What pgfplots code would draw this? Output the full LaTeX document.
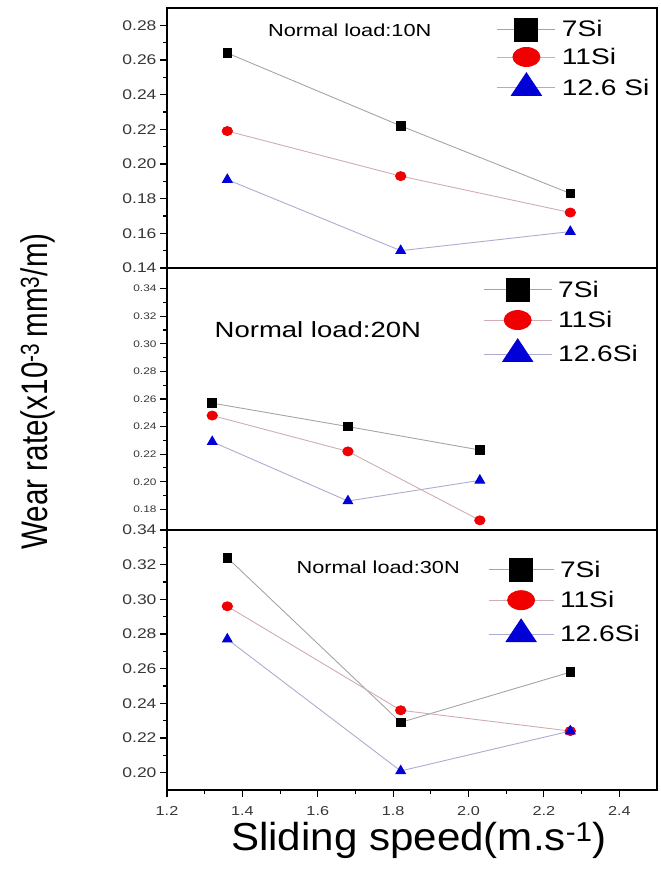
\documentclass[border=0pt]{standalone}
\usepackage{fontspec}
\setmainfont{Liberation Sans}[FakeStretch=1.25]
\newfontfamily\xlabfont{Liberation Sans}[FakeStretch=1.08]
\newfontfamily\ylabfont{Liberation Sans}[FakeStretch=0.8]
\usepackage{pgfplots}
\usepackage{pgfplotstable}
\pgfplotsset{compat=1.18}

\definecolor{ln7}{RGB}{165,165,165}
\definecolor{ln11}{RGB}{208,172,180}
\definecolor{ln12}{RGB}{172,172,208}
\definecolor{mkred}{RGB}{240,0,0}
\definecolor{mkblue}{RGB}{0,0,215}
\definecolor{tickgray}{RGB}{55,55,55}

% wear rate, load 10 N / 20 N / 30 N
\pgfplotstableread{
x     s7     s11    s126
1.36  0.264  0.219  0.191
1.82  0.222  0.193  0.150
2.27  0.183  0.172  0.161
}\loadten
\pgfplotstableread{
x     s7     s11    s126
1.32  0.257  0.248  0.229
1.68  0.240  0.222  0.186
2.03  0.223  0.172  0.201
}\loadtwenty
\pgfplotstableread{
x     s7     s11    s126
1.36  0.324  0.296  0.277
1.82  0.229  0.236  0.201
2.27  0.258  0.224  0.224
}\loadthirty

\pgfplotsset{
  leglen/.style={legend image code/.code={\draw[mark repeat=2,mark phase=2] plot coordinates {(0pt,0pt) (#1/2,0pt) (#1,0pt)};}},
  panel/.style={
    scale only axis, width=490pt, height=260pt,
    xmin=1.2, xmax=2.5,
    axis line style={line width=1.4pt},
    tick align=outside, ytick pos=left, xtick pos=bottom,
    major tick length=7pt, minor tick length=4pt,
    tick style={line width=1.1pt, black},
    minor y tick num=1,
    /pgf/number format/assume math mode=true,
    yticklabel style={/pgf/number format/fixed, /pgf/number format/fixed zerofill, /pgf/number format/precision=2},
    tick label style={text=tickgray},
    legend style={draw=none, fill=none, inner sep=0pt, column sep=4pt,
      font=\fontsize{22.5}{22.5}\selectfont, anchor=north west},
    legend cell align=left,
  },
  s7/.style={ln7, line width=0.9pt, mark=square*, mark size=4.3pt,
    mark options={draw=black, fill=black},
    legend image post style={mark size=11.5pt}},
  s11/.style={ln11, line width=0.9pt, mark=*, mark size=4.5pt,
    mark options={draw=mkred, fill=mkred, xscale=1.15},
    legend image post style={mark size=9.5pt, mark options={draw=mkred, fill=mkred, xscale=1.42}}},
  s126/.style={ln12, line width=0.9pt, mark=triangle*, mark size=5.5pt,
    mark options={draw=mkblue, fill=mkblue},
    legend image post style={mark size=15pt, mark options={draw=mkblue, fill=mkblue, xscale=1.15}}},
}

\begin{document}
\begin{tikzpicture}
\useasboundingbox (0pt,0pt) rectangle (661pt,870pt);

% top: 10 N
\begin{axis}[panel, at={(167pt,602pt)}, anchor=south west,
    ymin=0.14, ymax=0.29, ytick={0.14,0.16,0.18,0.20,0.22,0.24,0.26,0.28},
    xtick=\empty,
    yticklabel style={font=\fontsize{14}{14}\selectfont},
    leglen=58pt,
    legend style={at={(rel axis cs:0.673,0.962)}, row sep=5pt}]
  \addplot[s7] table[x=x, y=s7] {\loadten};
  \addplot[s11] table[x=x, y=s11] {\loadten};
  \addplot[s126] table[x=x, y=s126] {\loadten};
  \legend{7Si, 11Si, 12.6 Si}
  \node[font=\fontsize{17.4}{17.4}\selectfont] at (rel axis cs:0.373,0.915) {Normal load:10N};
\end{axis}

% middle: 20 N
\begin{axis}[panel, at={(167pt,340pt)}, anchor=south west, height=262pt,
    ymin=0.165, ymax=0.355, ytick={0.18,0.20,0.22,0.24,0.26,0.28,0.30,0.32,0.34},
    xtick=\empty,
    yticklabel style={font=\fontsize{9.5}{9.5}\selectfont},
    ylabel={Wear rate(x10\textsuperscript{-3}\,mm\textsuperscript{3}/m)},
    ylabel style={at={(rel axis cs:-0.263,0.529)}, anchor=center,
      font=\ylabfont\fontsize{37}{37}\selectfont},
    leglen=68pt,
    legend style={at={(rel axis cs:0.645,0.962)}, row sep=8pt}]
  \addplot[s7] table[x=x, y=s7] {\loadtwenty};
  \addplot[s11] table[x=x, y=s11] {\loadtwenty};
  \addplot[s126] table[x=x, y=s126] {\loadtwenty};
  \legend{7Si, 11Si, 12.6Si}
  \node[font=\fontsize{22}{22}\selectfont] at (rel axis cs:0.308,0.763) {Normal load:20N};
\end{axis}

% bottom: 30 N
\begin{axis}[panel, at={(167pt,80pt)}, anchor=south west,
    ymin=0.19, ymax=0.34, ytick={0.20,0.22,0.24,0.26,0.28,0.30,0.32,0.34},
    xtick={1.2,1.4,1.6,1.8,2.0,2.2,2.4}, minor x tick num=1,
    xticklabel style={/pgf/number format/fixed, /pgf/number format/fixed zerofill, /pgf/number format/precision=1},
    xticklabel style={font=\fontsize{13}{13}\selectfont},
    xticklabel shift=6pt,
    yticklabel style={font=\fontsize{14}{14}\selectfont},
    xlabel={Sliding speed(m.s\textsuperscript{-1})},
    xlabel style={at={(rel axis cs:0.514,-0.233)}, anchor=base,
      font=\xlabfont\fontsize{39}{39}\selectfont},
    leglen=65pt,
    legend style={at={(rel axis cs:0.655,0.892)}, row sep=8pt}]
  \addplot[s7] table[x=x, y=s7] {\loadthirty};
  \addplot[s11] table[x=x, y=s11] {\loadthirty};
  \addplot[s126] table[x=x, y=s126] {\loadthirty};
  \legend{7Si, 11Si, 12.6Si}
  \node[font=\fontsize{17.4}{17.4}\selectfont] at (rel axis cs:0.431,0.858) {Normal load:30N};
\end{axis}
\end{tikzpicture}
\end{document}
